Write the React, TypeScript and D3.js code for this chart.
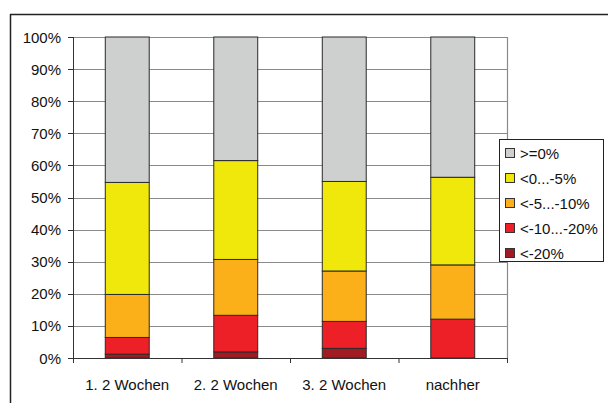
import React from "react";
import * as d3 from "d3";

const categories = ["1. 2 Wochen", "2. 2 Wochen", "3. 2 Wochen", "nachher"];
const seriesNames = ["<-20%", "<-10...-20%", "<-5...-10%", "<0...-5%", ">=0%"];
const seriesColors = ["#a11c22", "#ee2027", "#fbb01a", "#f0e80a", "#cdd0cf"];
const s_lt20 = [1.2, 1.9, 3.0, 0];
const s_10_20 = [5.2, 11.4, 8.4, 12.1];
const s_5_10 = [13.4, 17.4, 15.7, 16.9];
const s_0_5 = [34.9, 30.8, 27.9, 27.3];
const s_ge0 = [45.3, 38.5, 45.0, 43.7];
const yTicks = [0, 10, 20, 30, 40, 50, 60, 70, 80, 90, 100];

const W = 608, H = 403;
const plot = { left: 73, right: 507, top: 37, bottom: 358 };

export default function App() {
  const seriesValues = [s_lt20, s_10_20, s_5_10, s_0_5, s_ge0];
  const rows = categories.map((c, i) => {
    const r: any = { cat: c };
    seriesNames.forEach((n, k) => (r[n] = seriesValues[k][i]));
    return r;
  });
  const stack = d3.stack<any>().keys(seriesNames)(rows);
  const x = d3.scaleBand().domain(categories).range([plot.left, plot.right]).paddingInner(0.595).paddingOuter(0.2975);
  const y = d3.scaleLinear().domain([0, 100]).range([plot.bottom, plot.top]);
  const band = (plot.right - plot.left) / categories.length;
  const font = "Arial, 'Liberation Sans', sans-serif";
  const legendItems = [...seriesNames].map((n, k) => ({ n, c: seriesColors[k] })).reverse();

  return (
    <svg width={W} height={H} style={{ position: "absolute", left: 0, top: 0 }} fontFamily={font}>
      <rect x={0} y={0} width={W} height={H} fill="#fff" />
      {/* outer frame */}
      <line x1={10} y1={14.5} x2={W} y2={14.5} stroke="#222" strokeWidth={1.5} />
      <line x1={10.5} y1={14} x2={10.5} y2={H} stroke="#222" strokeWidth={1.5} />
      {/* gridlines */}
      {yTicks.filter((t) => t > 0).map((t) => (
        <line key={t} x1={plot.left} x2={plot.right} y1={Math.round(y(t)) + 0.5} y2={Math.round(y(t)) + 0.5} stroke="#8a8a8a" strokeWidth={1.2} />
      ))}
      <line x1={plot.right + 0.5} x2={plot.right + 0.5} y1={plot.top} y2={plot.bottom} stroke="#8a8a8a" strokeWidth={1.2} />
      {/* bars */}
      {stack.map((layer, k) =>
        layer.map((d, i) => {
          const h = y(d[0]) - y(d[1]);
          if (h <= 0) return null;
          return (
            <rect key={k + "-" + i} x={x(categories[i])!} y={y(d[1])} width={x.bandwidth()} height={h}
              fill={seriesColors[k]} stroke="#2a2a2a" strokeWidth={1} />
          );
        })
      )}
      {/* axes */}
      <line x1={plot.left + 0.5} x2={plot.left + 0.5} y1={plot.top} y2={plot.bottom} stroke="#333" strokeWidth={1} />
      <line x1={plot.left} x2={plot.right + 1} y1={plot.bottom + 0.5} y2={plot.bottom + 0.5} stroke="#333" strokeWidth={1} />
      {yTicks.map((t) => (
        <g key={t}>
          <line x1={plot.left - 5} x2={plot.left} y1={Math.round(y(t)) + 0.5} y2={Math.round(y(t)) + 0.5} stroke="#333" />
          <text x={61} y={y(t) + 5.5} textAnchor="end" fontSize={15} fill="#111">{t}%</text>
        </g>
      ))}
      {d3.range(categories.length + 1).map((i) => (
        <line key={i} x1={plot.left + i * band + 0.5} x2={plot.left + i * band + 0.5} y1={plot.bottom} y2={plot.bottom + 5} stroke="#333" />
      ))}
      {categories.map((c) => (
        <text key={c} x={x(c)! + x.bandwidth() / 2} y={390} textAnchor="middle" fontSize={15} fill="#111">{c}</text>
      ))}
      {/* legend */}
      <rect x={499.5} y={139.5} width={104} height={122} fill="#fff" stroke="#222" strokeWidth={1} />
      {legendItems.map((it, j) => (
        <g key={it.n}>
          <rect x={505.5} y={148.5 + j * 25} width={9} height={9} fill={it.c} stroke="#333" />
          <text x={520} y={158.5 + j * 25} fontSize={15} fill="#111">{it.n}</text>
        </g>
      ))}
    </svg>
  );
}
